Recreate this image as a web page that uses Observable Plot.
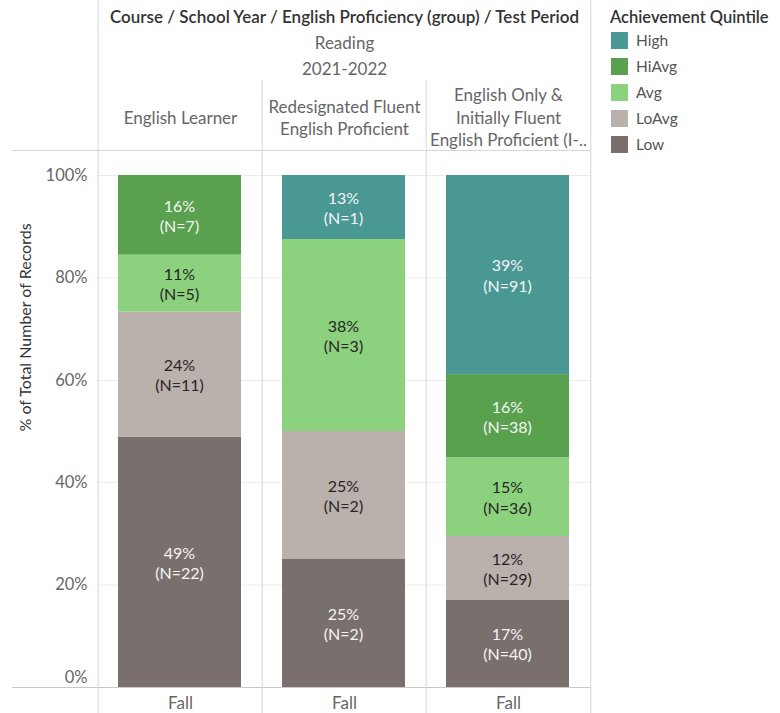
<!DOCTYPE html>
<html>
<head>
<meta charset="utf-8">
<script src="https://cdn.jsdelivr.net/npm/d3@7"></script>
<script src="https://cdn.jsdelivr.net/npm/@observablehq/plot@0.6"></script>
<style>
  body { margin: 0; background: white; font-family: Lato, "Open Sans", sans-serif; }
  #wrap { position: relative; width: 780px; height: 713px; }
  #legend { position: absolute; left: 610px; top: 7px; color: #333; }
  #legend .title { font-size: 16.5px; font-weight: 600; line-height: 20px; height: 20px; white-space: nowrap; }
  #legend .row { display: flex; align-items: center; height: 26px; font-size: 15.5px; color: #555; }
  #legend .sw { width: 17px; height: 17px; margin-left: 1px; margin-right: 8px; }
</style>
</head>
<body>
<div id="wrap"><div id="chart"></div><div id="legend"></div></div>
<script>
// ---- data ----
const groups = ["English Learner", "Redesignated Fluent English Proficient", "English Only & Initially Fluent English Proficient (I-.."];
const groupLabels = ["English Learner", "Redesignated Fluent\nEnglish Proficient", "English Only &\nInitially Fluent\nEnglish Proficient (I-.."];
const quintiles = ["High", "HiAvg", "Avg", "LoAvg", "Low"];
const quintileColors = ["#499894", "#59A14F", "#8CD17D", "#BAB0AC", "#79706E"];
const elCounts = [0, 7, 5, 11, 22];     // High, HiAvg, Avg, LoAvg, Low
const rfepCounts = [1, 0, 3, 2, 2];
const eoCounts = [91, 38, 36, 29, 40];
const period = "Fall";
const yTicks = [0.2, 0.4, 0.6, 0.8, 1];
const headerTitle = "Course / School Year / English Proficiency (group) / Test Period";
const course = "Reading";
const schoolYear = "2021-2022";
const yLabel = "% of Total Number of Records";
const legendTitle = "Achievement Quintile";

// ---- build stacked rows ----
const allCounts = [elCounts, rfepCounts, eoCounts];
const rows = [];
groups.forEach((g, gi) => {
  const counts = allCounts[gi];
  const total = d3.sum(counts);
  let acc = 0;
  for (let qi = quintiles.length - 1; qi >= 0; qi--) {
    const n = counts[qi];
    if (n === 0) continue;
    const lo = acc / total;
    acc += n;
    const hi = acc / total;
    rows.push({group: g, quintile: quintiles[qi], n, lo, hi, mid: (lo + hi) / 2,
      label: `${Math.round(n / total * 100)}%\n(N=${n})`});
  }
});
const darkQ = new Set(["High", "HiAvg", "Low"]);

const W = 780, H = 713, ML = 97, MR = 189, MT = 175, MB = 26;
const bw = (W - ML - MR) / groups.length;
const lineColor = "#d6d6d6";
const hdrFill = "#666";

const chart = Plot.plot({
  width: W, height: H,
  marginLeft: ML, marginRight: MR, marginTop: MT, marginBottom: MB,
  style: {fontFamily: "Lato, 'Open Sans', sans-serif", fontSize: "14px", background: "white"},
  x: {domain: groups, padding: 0, axis: null},
  y: {domain: [0, 1], axis: null},
  color: {domain: quintiles, range: quintileColors},
  marks: [
    Plot.gridY(yTicks, {stroke: "#ececec", strokeOpacity: 1}),
    Plot.barY(rows, {x: "group", y1: "lo", y2: "hi", fill: "quintile", insetLeft: 20, insetRight: 21}),
    Plot.text(rows.filter(d => darkQ.has(d.quintile)), {x: "group", y: "mid", text: "label", fill: "#f4f4f4", fontSize: 16, lineHeight: 1.27, dx: -1}),
    Plot.text(rows.filter(d => !darkQ.has(d.quintile)), {x: "group", y: "mid", text: "label", fill: "#262626", fontSize: 16, lineHeight: 1.27, dx: -1}),
    Plot.axisY({ticks: yTicks, tickFormat: d3.format(".0%"), tickSize: 0, tickPadding: 10, label: null, fill: hdrFill, fontSize: 16.5}),
    Plot.axisY({ticks: [0], tickFormat: d3.format(".0%"), tickSize: 0, tickPadding: 10, label: null, fill: hdrFill, fontSize: 16.5, dy: -10}),
    Plot.text([yLabel], {frameAnchor: "left", rotate: -90, dx: -72, fill: "#333", fontSize: 16}),
    Plot.ruleY([0], {stroke: "#c8c8c8", insetLeft: -85}),
    Plot.ruleY([1], {stroke: lineColor, insetLeft: -85, dy: -25}),
    Plot.ruleX(groups.slice(1), {stroke: lineColor, dx: -bw / 2, insetTop: -95, insetBottom: -MB}),
    Plot.ruleX([groups[0]], {stroke: lineColor, dx: -bw / 2, insetTop: -MT, insetBottom: -MB}),
    Plot.ruleX([groups[groups.length - 1]], {stroke: lineColor, dx: bw / 2, insetTop: -MT, insetBottom: -MB}),
    Plot.text([headerTitle], {frameAnchor: "top", dy: -158, lineAnchor: "middle", fill: "#333", fontSize: 17, fontWeight: 600}),
    Plot.text([course], {frameAnchor: "top", dy: -132, lineAnchor: "middle", fill: hdrFill, fontSize: 17}),
    Plot.text([schoolYear], {frameAnchor: "top", dy: -106, lineAnchor: "middle", fill: hdrFill, fontSize: 17}),
    Plot.text(groups, {x: d => d, text: (d, i) => groupLabels[i], frameAnchor: "top", dy: -59, lineAnchor: "middle", lineHeight: 1.3, fill: hdrFill, fontSize: 17}),
    Plot.text(groups, {x: d => d, text: () => period, frameAnchor: "bottom", dy: 16, lineAnchor: "middle", fill: hdrFill, fontSize: 17})
  ]
});
document.getElementById("chart").appendChild(chart);

// ---- legend from the plot's color scale ----
const cs = chart.scale("color");
const leg = document.getElementById("legend");
const t = document.createElement("div");
t.className = "title"; t.textContent = legendTitle;
leg.appendChild(t);
cs.domain.forEach((q, i) => {
  const r = document.createElement("div"); r.className = "row";
  const s = document.createElement("div"); s.className = "sw"; s.style.background = cs.range[i];
  const l = document.createElement("span"); l.textContent = q;
  r.appendChild(s); r.appendChild(l); leg.appendChild(r);
});
</script>
</body>
</html>
